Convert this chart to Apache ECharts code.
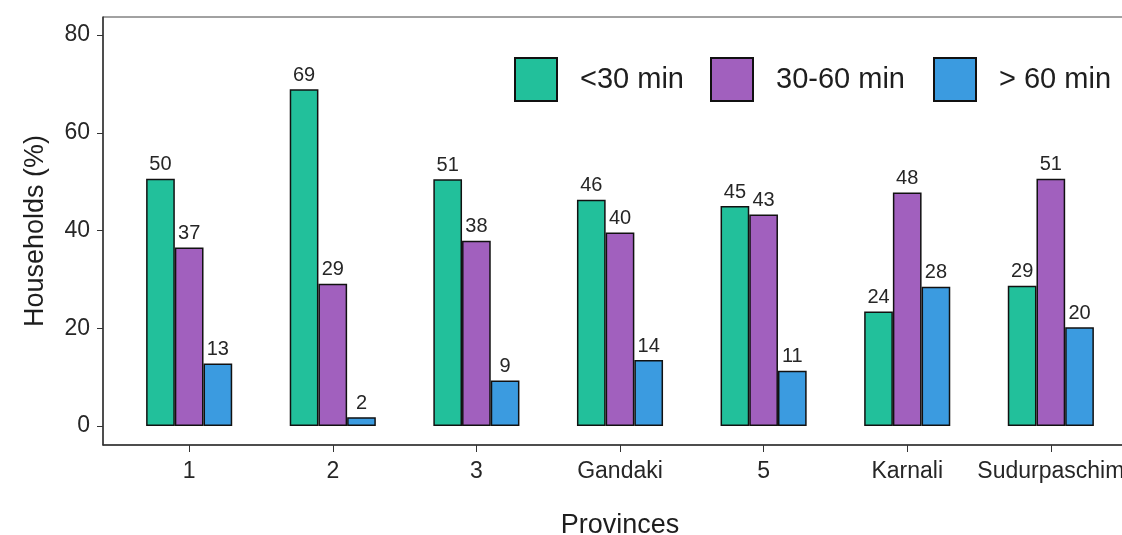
<!DOCTYPE html>
<html>
<head>
<meta charset="utf-8">
<script src="https://cdn.jsdelivr.net/npm/echarts@6/dist/echarts.min.js"></script>
<style>html,body{margin:0;padding:0;background:#fff;}#chart{width:1122px;height:535px;}</style>
</head>
<body>
<div id="chart"></div>
<script>
const categories = ['1', '2', '3', 'Gandaki', '5', 'Karnali', 'Sudurpaschim'];
const seriesNames = ['<30 min', '30-60 min', '> 60 min'];
const under30 = [50.6, 68.9, 50.5, 46.3, 45.0, 23.4, 28.7];
const from30to60 = [36.5, 29.1, 37.9, 39.6, 43.3, 47.8, 50.6];
const over60 = [12.8, 1.8, 9.3, 13.5, 11.3, 28.5, 20.2];
const under30Labels = [50, 69, 51, 46, 45, 24, 29];
const from30to60Labels = [37, 29, 38, 40, 43, 48, 51];
const over60Labels = [13, 2, 9, 14, 11, 28, 20];
const yTicks = [0, 20, 40, 60, 80];

const colors = ['#22c09b', '#a160be', '#3b9be0'];
const FONT = '"Liberation Sans", Arial, sans-serif';

const chart = echarts.init(document.getElementById('chart'));

function mk(name, vals, labels, color) {
  return {
    name: name,
    type: 'bar',
    barWidth: 28.7,
    barGap: '0%',
    data: vals.map((v, i) => [i + 1, v]),
    itemStyle: { color: color, borderColor: '#111', borderWidth: 1.5 },
    label: {
      show: true, position: 'top', distance: 4,
      fontFamily: FONT, fontSize: 20, color: '#262626',
      formatter: p => String(labels[p.dataIndex])
    },
    emphasis: { disabled: true }
  };
}

const legendLefts = [514, 710, 933];
const option = {
  backgroundColor: '#fff',
  animation: false,
  textStyle: { fontFamily: FONT },
  grid: { left: 103, top: 17, width: 1034, height: 428, show: true, borderColor: '#444', borderWidth: 1, outerBoundsMode: 'none', containLabel: false },
  legend: seriesNames.map((n, i) => ({
    data: [n], left: legendLefts[i], top: 57, padding: 0,
    itemWidth: 42, itemHeight: 43,
    icon: 'rect',
    textStyle: { fontFamily: FONT, fontSize: 29, color: '#1e1e1e', padding: [0, 0, 0, 18] },
    selectedMode: false
  })),
  xAxis: {
    type: 'value', min: 0.4, max: 7.6,
    name: 'Provinces', nameLocation: 'middle', nameGap: 67,
    nameTextStyle: { fontFamily: FONT, fontSize: 27, color: '#1e1e1e' },
    axisLine: { show: true, onZero: false, lineStyle: { color: '#333', width: 1.5 } },
    axisTick: { show: true, length: 7, customValues: categories.map((c, i) => i + 1), lineStyle: { color: '#333' } },
    axisLabel: {
      customValues: categories.map((c, i) => i + 1),
      formatter: v => categories[Math.round(v) - 1] || '',
      fontFamily: FONT, fontSize: 23, color: '#262626', margin: 15
    },
    splitLine: { show: false }
  },
  yAxis: {
    type: 'value', min: -3.9, max: 83.7,
    name: 'Households (%)', nameLocation: 'middle', nameGap: 54,
    nameTextStyle: { fontFamily: FONT, fontSize: 27, color: '#1e1e1e' },
    axisLine: { show: true, onZero: false, lineStyle: { color: '#333', width: 1.5 } },
    axisTick: { show: true, length: 6, customValues: yTicks, lineStyle: { color: '#333' } },
    axisLabel: { customValues: yTicks, fontFamily: FONT, fontSize: 23, color: '#262626', margin: 13 },
    splitLine: { show: false }
  },
  series: [
    mk(seriesNames[0], under30, under30Labels, colors[0]),
    mk(seriesNames[1], from30to60, from30to60Labels, colors[1]),
    mk(seriesNames[2], over60, over60Labels, colors[2])
  ]
};
chart.setOption(option);
</script>
</body>
</html>
